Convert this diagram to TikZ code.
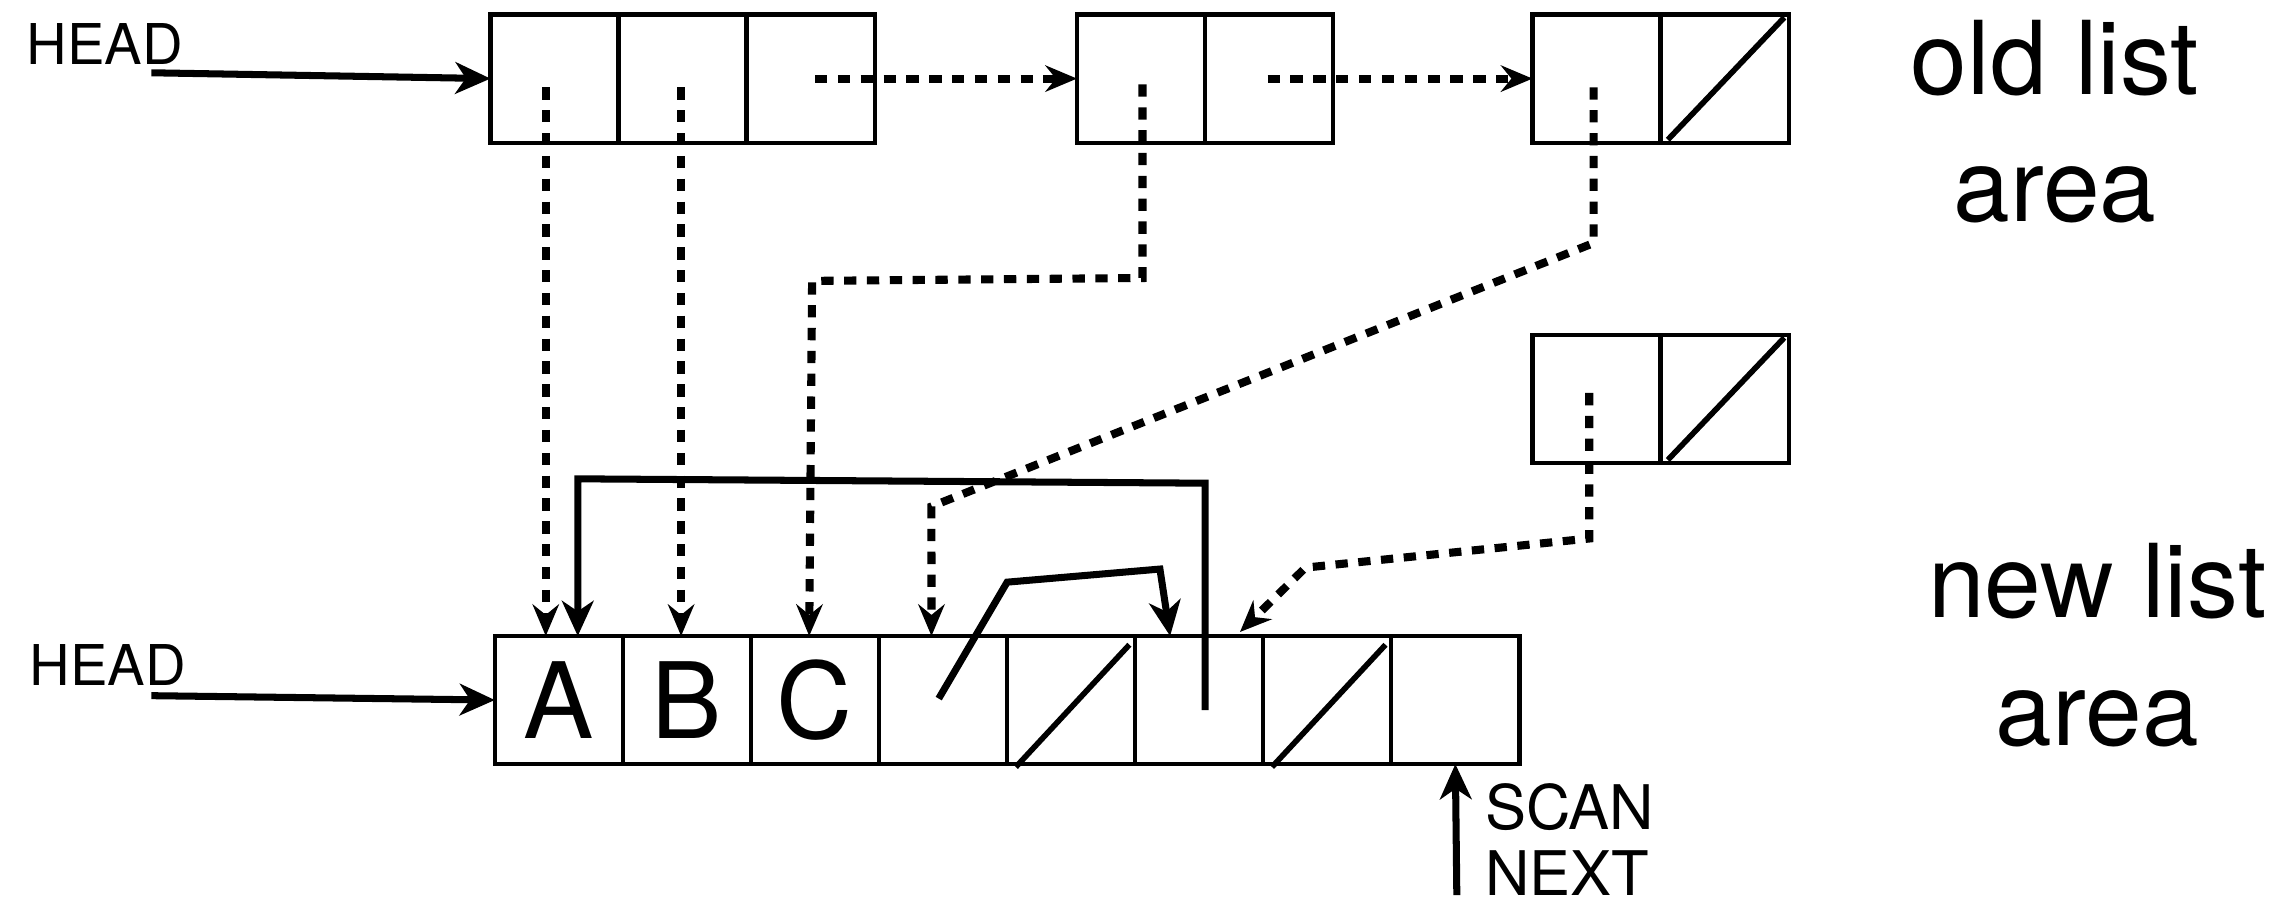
\documentclass[tikz,border=0pt]{standalone}
\usepackage{fontspec}
\setmainfont{TeX Gyre Heros}
\usetikzlibrary{arrows.meta}
\begin{document}
\begin{tikzpicture}[x=0.014554cm,y=-0.014554cm,
  cell/.style={draw,line width=1.2pt,minimum width=1.2808cm,minimum height=1.2808cm,inner sep=0pt,outer sep=0pt},
  ptr/.style={line width=2pt,-{Stealth[length=10pt,width=9pt,inset=3pt]}},
  fwd/.style={line width=2.3pt,dash pattern=on 3.5pt off 3pt,-{Stealth[length=9pt,width=7.5pt,inset=3pt]}},
  nil/.style={line width=1.6pt},
  lbl/.style={font=\fontsize{16}{16}\selectfont,inner sep=0pt,anchor=base west},
  small/.style={font=\fontsize{17.5}{17.5}\selectfont,inner sep=0pt,anchor=base west},
  area/.style={font=\fontsize{29}{29}\selectfont,inner sep=0pt,anchor=base},
  letter/.style={font=\fontsize{30}{30}\selectfont}]
\useasboundingbox (0,0) rectangle (1568,621);

% old list area: three linked cells plus a spare node
\node[cell] (o11) at (381,54) {};
\node[cell] (o12) at (469,54) {};
\node[cell] (o13) at (557,54) {};
\node[cell] (o21) at (784,54) {};
\node[cell] (o22) at (872,54) {};
\node[cell] (o31) at (1097,54) {};
\node[cell] (o32) at (1185,54) {};
\node[cell] (o41) at (1097,274) {};
\node[cell] (o42) at (1185,274) {};
\draw[nil] (1146,96) -- (1226,12);
\draw[nil] (1146,316) -- (1226,232);

% new list area
\node[cell,letter] (n1) at (384,481) {A};
\node[cell,letter] (n2) at (472,481) {B};
\node[cell,letter] (n3) at (560,481) {C};
\node[cell] (n4) at (648,481) {};
\node[cell] (n5) at (736,481) {};
\node[cell] (n6) at (824,481) {};
\node[cell] (n7) at (912,481) {};
\node[cell] (n8) at (1000,481) {};
\draw[nil] (698,527) -- (776,443);
\draw[nil] (874,527) -- (952,443);

% labels
\node[lbl] (headold) at (18,44) {HEAD};
\node[lbl] (headnew) at (20,471) {HEAD};
\node[small] (scan) at (1020,570) {SCAN};
\node[small] (next) at (1020,615) {NEXT};
\node[area] (old1) at (1412,65) {old list};
\node[area] (old2) at (1412,152) {area};
\node[area] (new1) at (1441,424) {new list};
\node[area] (new2) at (1441,512) {area};

% pointer origins
\coordinate (h1) at (104,50);
\coordinate (h2) at (104,478);
\coordinate (sc) at (1001,615);
\coordinate (q13) at (560,54);
\coordinate (q22) at (871,54);
\coordinate (p11) at (375,60);
\coordinate (p12) at (468,60);
\coordinate (p21) at (785,58);
\coordinate (p31) at (1095,60);
\coordinate (p41) at (1092,270);
\coordinate (s4) at (645,480);
\coordinate (s6) at (828,488);

% roots and scan pointer
\draw[ptr] (h1) -- (o11.west);
\draw[ptr] (h2) -- (n1.west);
\draw[ptr] (sc) -- (n8.south);

% old links
\draw[fwd] (q13) -- (o21.west);
\draw[fwd] (q22) -- (o31.west);

% forwarding into the new area
\draw[fwd] (p11) -- (p11 |- n1.north);
\draw[fwd] (p12) -- (p12 |- n2.north);
\draw[fwd] (p21) -- (785,191) -- (558,193) -- ([xshift=-0.058cm]n3.north);
\draw[fwd] (p31) -- (1095,167) -- (640,348) -- ([xshift=-0.116cm]n4.north);
\draw[fwd] (p41) -- (1092,370) -- (897,390) -- ([xshift=-0.233cm,yshift=0.04cm]n6.north east);

% copied pointers
\draw[ptr] (s6) -- (828,332) -- (397,329) -- ([xshift=0.189cm]n1.north);
\draw[ptr] (s4) -- (692,400) -- (797,391) -- ([xshift=-0.291cm]n6.north);
\end{tikzpicture}
\end{document}
